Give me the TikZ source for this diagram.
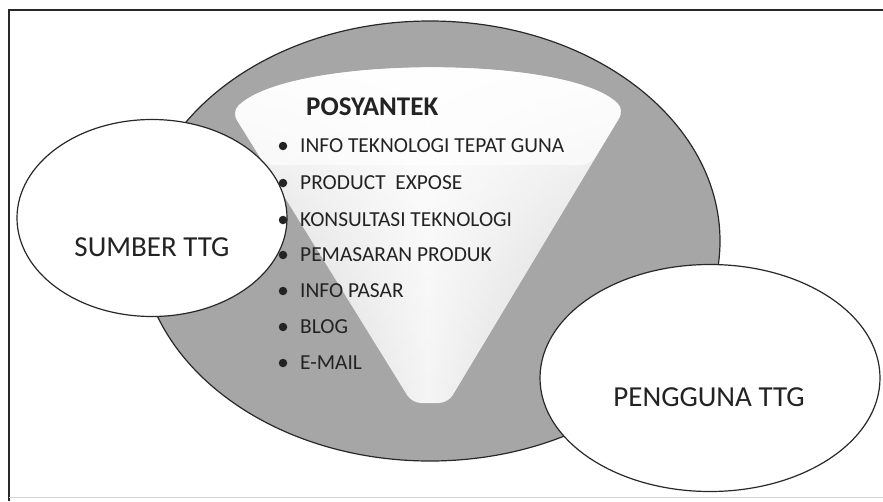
\documentclass[tikz,border=0pt]{standalone}
\usepackage{fontspec}
\setmainfont{Carlito}
\usetikzlibrary{shapes.geometric,fadings}
\definecolor{bggray}{RGB}{166,166,166}
\definecolor{outl}{RGB}{40,40,40}
\definecolor{txt}{RGB}{35,35,35}
\definecolor{funside}{RGB}{198,198,198}
\tikzset{
  blob/.style={ellipse, draw=outl, line width=1.2pt, fill=white, inner sep=0pt},
  item/.style={anchor=west, text=txt, font=\fontsize{21.4}{22}\selectfont, inner sep=0pt},
  bul/.style={circle, fill=txt, inner sep=0pt, minimum size=8.5pt},
  big/.style={text=txt, font=\fontsize{29}{30}\selectfont, inner sep=0pt}
}
\tikzfading[name=topwhite, top color=transparent!0, bottom color=transparent!100]
\begin{document}
\begin{tikzpicture}[x=1pt,y=-1pt]
\useasboundingbox (0,0) rectangle (883,501);
% frame
\draw[outl, line width=1.4pt] (9,501) -- (9,10) -- (883,10);
\draw[gray!35, line width=0.6pt] (9,497) -- (883,497);
% big gray ellipse
\node[ellipse, draw=outl, line width=1.2pt, fill=bggray, minimum width=580pt, minimum height=440pt, inner sep=0pt] (pos) at (430,241) {};
% funnel
\path[rounded corners=9pt, left color=funside, right color=funside, middle color=white!92!gray]
  (232,112) .. controls (290,55) and (570,55) .. (624,110) -- (448,403) -- (412,403) -- cycle;
\path[rounded corners=9pt, fill=white, path fading=topwhite]
  (232,112) .. controls (290,55) and (570,55) .. (624,110) -- (448,403) -- (412,403) -- cycle;
\path[rounded corners=9pt, fill=white, fill opacity=0.6]
  (232,112) .. controls (290,55) and (570,55) .. (624,110) -- (590,165) -- (265,165) -- cycle;
% side ellipses
\node[blob, minimum width=270pt, minimum height=197pt] (sumber) at (152,218) {};
\node[blob, minimum width=340pt, minimum height=227pt] (pengguna) at (710,378) {};
% texts
\node[big] (tsumber) at (152,247) {SUMBER TTG};
\node[big] (tpengguna) at (709,397) {PENGGUNA TTG};
\node[anchor=west, text=txt, inner sep=0pt, font=\fontsize{27}{28}\selectfont\bfseries] (title) at (306,107) {POSYANTEK};
\foreach \i/\y/\t in {1/146/INFO TEKNOLOGI TEPAT GUNA, 2/183/PRODUCT\ \ EXPOSE, 3/220/KONSULTASI TEKNOLOGI, 4/255/PEMASARAN PRODUK, 5/291/INFO PASAR, 6/327/BLOG, 7/363/E-MAIL}{
  \node[bul] (b\i) at (283,\y) {};
  \node[item] (t\i) at (300,\y) {\t};
}
\end{tikzpicture}
\end{document}
